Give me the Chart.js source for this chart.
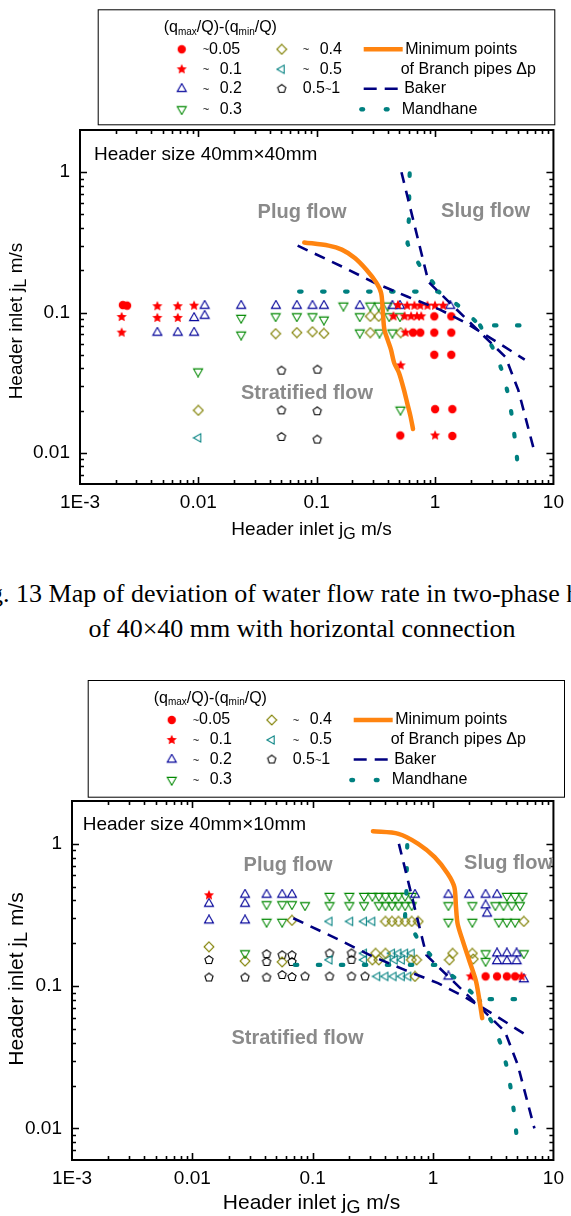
<!DOCTYPE html>
<html>
<head>
<meta charset="utf-8">
<script src="https://cdn.jsdelivr.net/npm/chart.js"></script>
<style>
  html, body { margin: 0; padding: 0; background: #fff; }
  body { position: relative; width: 571px; height: 1216px; overflow: hidden; }
  canvas { position: absolute; left: 0; }
  #map1 { top: 0; }
  #map2 { top: 660px; }
  .cap { position: absolute; left: -200px; width: 1004px; text-align: center; color: #000;
         font: 26px "Liberation Serif", "Times New Roman", serif; line-height: 35px; white-space: nowrap; }
</style>
</head>
<body>
<canvas id="map1" width="571" height="545"></canvas>
<div class="cap" style="top:576px">Fig. 13 Map of deviation of water flow rate in two-phase header<br>of 40×40 mm with horizontal connection</div>
<canvas id="map2" width="571" height="556"></canvas>
<script>
// axes
const xMajor = [0.001, 0.01, 0.1, 1, 10]
const xTickText = ['1E-3', '0.01', '0.1', '1', '10']
const yMajor = [0.01, 0.1, 1]
const yTickText = ['0.01', '0.1', '1']
const devLabels = ['~0.05', '~ 0.1', '~ 0.2', '~ 0.3', '~ 0.4', '~ 0.5', '0.5~1']

// header 40mm x 40mm  [jG, jL]
const c1Dev005 = [[0.0023,0.113],[0.0025,0.112],[0.985,0.094],[1.37,0.094],[0.651,0.072],[0.75,0.072],[0.985,0.072],[1.37,0.072],
  [0.985,0.050],[1.37,0.050],[1.0,0.0205],[1.40,0.0205],[0.508,0.0133],[1.40,0.0132]]
const c1Dev01 = [[0.00225,0.093],[0.00225,0.072],[0.0045,0.111],[0.0045,0.0916],[0.0067,0.111],[0.0067,0.0916],[0.0092,0.112],
  [0.486,0.113],[0.581,0.112],[0.669,0.112],[0.75,0.112],[0.862,0.112],[0.998,0.112],[1.169,0.112],
  [0.445,0.094],[0.553,0.094],[0.627,0.094],[0.703,0.094],[0.764,0.094],[0.563,0.072],[0.512,0.042],[1.0,0.0133]]
const c1Dev02 = [[0.0113,0.112],[0.0113,0.095],[0.0092,0.0916],[0.0045,0.072],[0.0067,0.072],[0.0092,0.072],[0.023,0.112],
  [0.0452,0.112],[0.0679,0.112],[0.0921,0.112],[0.115,0.112],[0.231,0.112],[0.436,0.112],[0.505,0.112],[1.343,0.112]]
const c1Dev03 = [[0.023,0.0916],[0.023,0.0696],[0.045,0.094],[0.0679,0.094],[0.0921,0.094],[0.115,0.089],[0.00995,0.038],
  [0.168,0.112],[0.284,0.112],[0.334,0.112],[0.397,0.112],[0.231,0.094],[0.41,0.094],[0.505,0.094],
  [0.231,0.072],[0.339,0.072],[0.436,0.072],[0.51,0.0203]]
const c1Dev04 = [[0.045,0.0707],[0.0679,0.072],[0.0921,0.073],[0.115,0.071],[0.01,0.0201],[0.284,0.094],[0.334,0.094],
  [0.284,0.072],[0.512,0.072]]
const c1Dev05 = [[0.01,0.0128]]
const c1Dev1 = [[0.0504,0.0386],[0.1014,0.0392],[0.0504,0.0201],[0.101,0.0198],[0.0504,0.013],[0.101,0.01245]]
const c1MinDp = [[0.0785,0.316],[0.126,0.300],[0.163,0.281],[0.210,0.245],[0.263,0.202],[0.318,0.164],[0.350,0.138],
  [0.361,0.105],[0.373,0.0755],[0.397,0.0641],[0.424,0.0544],[0.451,0.0438],[0.496,0.0371],[0.545,0.0282],
  [0.581,0.0227],[0.620,0.0182],[0.651,0.0148]]

// header 40mm x 10mm
const c2Dev005 = [[2.73,0.117],[3.40,0.117],[4.10,0.117],[4.80,0.117]]
const c2Dev01 = [[0.01374,0.435],[2.056,0.117],[5.43,0.117]]
const c2Dev02 = [[0.01374,0.38],[0.01374,0.29],[0.0274,0.44],[0.0274,0.38],[0.0274,0.29],[0.0414,0.44],[0.0557,0.44],
  [0.0672,0.44],[0.707,0.44],[1.341,0.44],[1.991,0.44],[2.73,0.44],[3.40,0.44],[2.73,0.37],[2.81,0.324],
  [3.40,0.17],[4.10,0.17],[4.94,0.17],[3.40,0.15],[4.10,0.15],[4.94,0.15],[1.341,0.117],[5.68,0.112]]
const c2Dev03 = [[0.138,0.43],[0.2015,0.43],[0.267,0.43],[0.313,0.43],[0.354,0.43],[0.402,0.43],[0.456,0.43],[0.516,0.43],
  [0.586,0.43],[0.665,0.43],[4.10,0.43],[4.80,0.43],[5.53,0.43],
  [0.0414,0.376],[0.0557,0.376],[0.0672,0.376],[0.0863,0.37],[0.138,0.37],[0.2015,0.37],[0.267,0.37],[0.354,0.37],
  [0.402,0.37],[0.456,0.37],[0.516,0.37],[0.586,0.37],[0.665,0.37],[1.341,0.37],[2.119,0.37],[3.29,0.37],[3.85,0.37],
  [4.50,0.37],[5.27,0.37],
  [0.0414,0.283],[0.0557,0.283],[1.341,0.283],[2.119,0.283],[3.51,0.283],[4.10,0.283],[4.80,0.283],
  [0.0274,0.17],[2.73,0.17],[5.68,0.17],[2.73,0.15]]
const c2Dev04 = [[0.01374,0.189],[0.0274,0.15],[0.0557,0.148],[0.0672,0.29],[0.402,0.285],[0.456,0.285],[0.516,0.285],
  [0.586,0.285],[0.665,0.285],[0.753,0.285],[5.68,0.285],[0.333,0.17],[0.402,0.17],[0.313,0.153],[0.354,0.153],
  [0.66,0.153],[0.73,0.153],[1.455,0.17],[2.119,0.17],[1.367,0.153],[2.159,0.155],[0.707,0.117]]
const c2Dev05 = [[0.138,0.285],[0.205,0.285],[0.267,0.285],[0.313,0.285],[0.267,0.17],[0.456,0.17],[0.516,0.17],
  [0.586,0.17],[0.665,0.17],[0.138,0.153],[0.267,0.153],[0.42,0.153],[0.48,0.153],[0.55,0.153],
  [0.344,0.117],[0.402,0.117],[0.47,0.117],[0.55,0.117],[0.623,0.117]]
const c2Dev1 = [[0.01374,0.1526],[0.01374,0.115],[0.0274,0.115],[0.0414,0.168],[0.0414,0.148],[0.0414,0.115],
  [0.0557,0.165],[0.0557,0.1198],[0.0672,0.165],[0.0672,0.148],[0.0672,0.116],[0.0863,0.117],[0.138,0.17],
  [0.138,0.117],[0.21,0.17],[0.21,0.153],[0.21,0.117],[0.272,0.117]]
const c2MinDp = [[0.3166,1.225],[0.516,1.175],[0.753,1.0],[1.031,0.806],[1.324,0.617],[1.502,0.497],[1.55,0.360],
  [1.598,0.275],[1.757,0.2105],[1.991,0.1526],[2.26,0.1105],[2.40,0.0844],[2.56,0.0596]]

// flow pattern boundaries (same on both maps)
const bakerA = [[0.069,0.30],[0.163,0.213],[0.308,0.163],[0.581,0.130],[1.098,0.105],[1.82,0.0843],[3.44,0.0607],[5.72,0.0462]]
const bakerB = [[0.52,1.0],[0.88,0.165],[3.95,0.048],[5.05,0.028],[6.95,0.010]]
const mandA = [[0.071,0.141],[1.07,0.141],[1.6,0.111],[2.4,0.081],[6.0,0.081]]
const mandB = [[0.61,0.98],[0.60,0.46],[0.585,0.31],[0.75,0.213],[1.08,0.144]]
const mandC = [[2.4,0.081],[3.15,0.054],[3.7,0.038],[4.2,0.025],[4.5,0.0173],[4.77,0.0118],[5.0,0.0081]]

const FONT = "'Liberation Sans', Arial, Helvetica, sans-serif"
const ORANGE = '#ff8410', NAVY = '#000080', TEAL = '#008080'

function makeMarker(shape, color) {
  const c = document.createElement('canvas')
  c.width = c.height = 12
  const g = c.getContext('2d'), m = 6
  g.strokeStyle = g.fillStyle = color
  g.lineWidth = 1.1
  const poly = (n, r, rot, r2) => {
    g.beginPath()
    const k = r2 ? n * 2 : n
    for (let i = 0; i < k; i++) {
      const a = rot + i * 2 * Math.PI / k, rr = r2 && i % 2 ? r2 : r
      const px = m + rr * Math.cos(a), py = m + rr * Math.sin(a)
      i ? g.lineTo(px, py) : g.moveTo(px, py)
    }
    g.closePath()
  }
  if (shape === 'circle') { g.beginPath(); g.arc(m, m, 4.2, 0, 2 * Math.PI); g.fill() }
  if (shape === 'star') { poly(5, 5.3, -Math.PI / 2, 2.5); g.fill() }
  if (shape === 'up') { poly(3, 5.2, -Math.PI / 2); g.stroke() }
  if (shape === 'down') { poly(3, 5.2, Math.PI / 2); g.stroke() }
  if (shape === 'left') { poly(3, 4.8, Math.PI); g.stroke() }
  if (shape === 'diamond') { poly(4, 4.9, -Math.PI / 2); g.stroke() }
  if (shape === 'penta') { poly(5, 4.3, -Math.PI / 2); g.stroke() }
  return c
}

const marks = [
  makeMarker('circle', '#ff0000'), makeMarker('star', '#ff0000'), makeMarker('up', '#000099'),
  makeMarker('down', '#008800'), makeMarker('diamond', '#808000'), makeMarker('left', '#008080'),
  makeMarker('penta', '#000000')
]

const pts = arr => arr.map(([x, y]) => ({ x, y }))

function logSteps(lo, hi) {
  const major = [], minor = []
  for (let e = Math.floor(Math.log10(lo)); e <= Math.ceil(Math.log10(hi)); e++) {
    for (let m = 1; m <= 9; m++) {
      const v = m * Math.pow(10, e)
      if (v <= lo * 1.0001 || v >= hi * 0.9999) continue
      ;(m === 1 ? major : minor).push(v)
    }
  }
  return { major, minor }
}

// text made of runs: [text, size, dy, weight]
function runs(ctx, x, y, parts, align) {
  const f = p => (p[3] || '') + ' ' + p[1] + 'px ' + FONT
  let w = 0
  parts.forEach(p => { ctx.font = f(p); w += ctx.measureText(p[0]).width })
  let cx = align === 'center' ? x - w / 2 : x
  parts.forEach(p => {
    ctx.font = f(p)
    ctx.fillText(p[0], cx, y + (p[2] || 0))
    cx += ctx.measureText(p[0]).width
  })
}

function devText(label) {
  // small tilde like the original
  const i = label.indexOf('~')
  if (i === 0) return [['~', 11, 1], [label.slice(1), 16]]
  return [[label.slice(0, i), 16], ['~', 11, 1], [label.slice(i + 1), 16]]
}

function drawLegend(ctx, L) {
  const [l, t, r, b] = L.box
  ctx.save()
  ctx.strokeStyle = '#000'; ctx.lineWidth = 1
  ctx.strokeRect(l + 0.5, t + 0.5, r - l, b - t)
  ctx.fillStyle = '#000'; ctx.textBaseline = 'middle'; ctx.textAlign = 'left'
  runs(ctx, l + 66, t + 18.5, [['(q', 16], ['max', 10, 4], ['/Q)-(q', 16], ['min', 10, 4], ['/Q)', 16]])
  const rows = [40, 60, 79.5, 100].map(v => t + v)
  devLabels.forEach((lab, i) => {
    const col = i < 4 ? 0 : 1, y = rows[col ? i - 4 : i]
    const sx = l + (col ? 184 : 84)
    ctx.drawImage(marks[i], sx - 6, y - 6)
    const tx = l + (col ? 205 : 105)
    const parts = devText(lab)
    if (lab.startsWith('~ ')) {
      runs(ctx, tx, y, [parts[0]])
      runs(ctx, tx + 17, y, [[lab.slice(2), 16]])
    } else runs(ctx, tx, y, parts)
  })
  // lines
  ctx.lineCap = 'butt'
  ctx.strokeStyle = ORANGE; ctx.lineWidth = 4.5
  ctx.beginPath(); ctx.moveTo(l + 266, rows[0]); ctx.lineTo(l + 305, rows[0]); ctx.stroke()
  ctx.strokeStyle = NAVY; ctx.lineWidth = 2.6
  ctx.beginPath(); ctx.moveTo(l + 266, rows[2]); ctx.lineTo(l + 279, rows[2])
  ctx.moveTo(l + 287, rows[2]); ctx.lineTo(l + 300, rows[2]); ctx.stroke()
  ctx.fillStyle = TEAL
  ;[264.5, 289].forEach(dx => { ctx.beginPath(); ctx.ellipse(l + dx, rows[3], 3, 2.3, 0, 0, 2 * Math.PI); ctx.fill() })
  ctx.fillStyle = '#000'
  runs(ctx, l + 307.5, rows[0], [['Minimum points', 16]])
  runs(ctx, l + 303, rows[1], [['of Branch pipes Δp', 16]])
  runs(ctx, l + 306.5, rows[2], [['Baker', 16]])
  runs(ctx, l + 304, rows[3], [['Mandhane', 16]])
  ctx.restore()
}

const decor = {
  id: 'decor',
  afterDatasetsDraw(chart, args, o) {
    const { ctx, chartArea: a, scales: { x, y } } = chart
    ctx.save()
    ctx.strokeStyle = '#000'; ctx.lineWidth = 1.6
    ctx.beginPath()
    const xs = logSteps(x.min, x.max), ys = logSteps(y.min, y.max)
    ;[[xs.major, 7], [xs.minor, 4]].forEach(([vals, len]) => vals.forEach(v => {
      const p = Math.round(x.getPixelForValue(v)) + 0.5
      ctx.moveTo(p, a.bottom); ctx.lineTo(p, a.bottom - len)
      ctx.moveTo(p, a.top); ctx.lineTo(p, a.top + len)
    }))
    ;[[ys.major, 7], [ys.minor, 4]].forEach(([vals, len]) => vals.forEach(v => {
      const p = Math.round(y.getPixelForValue(v)) + 0.5
      ctx.moveTo(a.left, p); ctx.lineTo(a.left + len, p)
      ctx.moveTo(a.right, p); ctx.lineTo(a.right - len, p)
    }))
    ctx.stroke()
    ctx.lineWidth = 2
    ctx.strokeRect(a.left, a.top, a.right - a.left, a.bottom - a.top)
    ctx.restore()
  },
  afterDraw(chart, args, o) {
    const ctx = chart.ctx
    drawLegend(ctx, o.legend)
    ctx.save()
    ctx.textBaseline = 'middle'; ctx.textAlign = 'left'; ctx.fillStyle = '#000'
    runs(ctx, o.header[1], o.header[2], [[o.header[0], 19]])
    ctx.fillStyle = '#8a8a8a'
    o.regions.forEach(([t, x, y]) => runs(ctx, x, y, [[t, 20, 0, 'bold']], 'center'))
    ctx.fillStyle = '#000'
    const s = o.titleSize
    runs(ctx, o.xTitle[0], o.xTitle[1], [['Header inlet j', s], ['G', s - 3, 5], [' m/s', s]], 'center')
    ctx.translate(o.yTitle[0], o.yTitle[1]); ctx.rotate(-Math.PI / 2)
    runs(ctx, 0, 0, [['Header inlet j', s], ['L', s - 3, 5], [' m/s', s]], 'center')
    ctx.restore()
  }
}

function makeMap(id, d, geo) {
  const lineDs = (data, color, width, dash, cap, tension) => ({
    data: pts(data), showLine: true, pointRadius: 0, borderColor: color, borderWidth: width,
    borderDash: dash, borderCapStyle: cap, tension: tension || 0, fill: false
  })
  const datasets = [
    lineDs(d.minDp, ORANGE, 4.5, [], 'round', 0.3),
    lineDs(bakerA, NAVY, 2.6, [11, 8], 'butt'),
    lineDs(bakerB, NAVY, 2.6, [11, 8], 'butt'),
    lineDs(mandA, TEAL, 4.2, [2.5, 20.5], 'round'),
    lineDs(mandB, TEAL, 4.2, [2.5, 20.5], 'round'),
    lineDs(mandC, TEAL, 4.2, [2.5, 20.5], 'round')
  ].concat(d.devs.map((arr, i) => ({ data: pts(arr), pointStyle: marks[i], pointRadius: 5, showLine: false })))

  return new Chart(document.getElementById(id), {
    type: 'scatter',
    data: { datasets },
    options: {
      responsive: false, animation: false, events: [],
      layout: { autoPadding: false, padding: { top: geo.top, right: geo.right, left: 0, bottom: 0 } },
      plugins: { legend: { display: false }, tooltip: { enabled: false }, decor: geo.decor },
      scales: {
        x: {
          type: 'logarithmic', position: 'bottom', min: 0.001, max: 10,
          afterBuildTicks: s => { s.ticks = xMajor.map(v => ({ value: v })) },
          afterFit: s => { s.height = geo.xh },
          grid: { display: false, drawTicks: false }, border: { display: false },
          ticks: { autoSkip: false, maxRotation: 0, minRotation: 0, padding: geo.xpad, color: '#000',
                   font: { family: FONT, size: 19 }, callback: (v, i) => xTickText[i] }
        },
        y: {
          type: 'logarithmic', position: 'left', min: 0.006, max: 2,
          afterBuildTicks: s => { s.ticks = yMajor.map(v => ({ value: v })) },
          afterFit: s => { s.width = geo.yw },
          grid: { display: false, drawTicks: false }, border: { display: false },
          ticks: { autoSkip: false, padding: 10, color: '#000',
                   font: { family: FONT, size: 19 }, callback: (v, i) => yTickText[i] }
        }
      }
    },
    plugins: [decor]
  })
}

makeMap('map1',
  { minDp: c1MinDp, devs: [c1Dev005, c1Dev01, c1Dev02, c1Dev03, c1Dev04, c1Dev05, c1Dev1] },
  { top: 130, right: 8, xh: 61, yw: 80, xpad: 7,
    decor: {
      legend: { box: [97.7, 9.3, 554.3, 124.3] },
      header: ['Header size 40mm×40mm', 94, 155],
      regions: [['Plug flow', 302, 212], ['Slug flow', 485.5, 211], ['Stratified flow', 307, 393]],
      titleSize: 19, xTitle: [311.5, 530], yTitle: [17, 321]
    } })

makeMap('map2',
  { minDp: c2MinDp, devs: [c2Dev005, c2Dev01, c2Dev02, c2Dev03, c2Dev04, c2Dev05, c2Dev1] },
  { top: 141, right: 9, xh: 56, yw: 72, xpad: 7,
    decor: {
      legend: { box: [87.7, 20, 564, 136.7] },
      header: ['Header size 40mm×10mm', 82.7, 165],
      regions: [['Plug flow', 288, 205], ['Slug flow', 508.5, 203], ['Stratified flow', 297.5, 378]],
      titleSize: 21, xTitle: [311.5, 543], yTitle: [17, 319]
    } })
</script>
</body>
</html>
